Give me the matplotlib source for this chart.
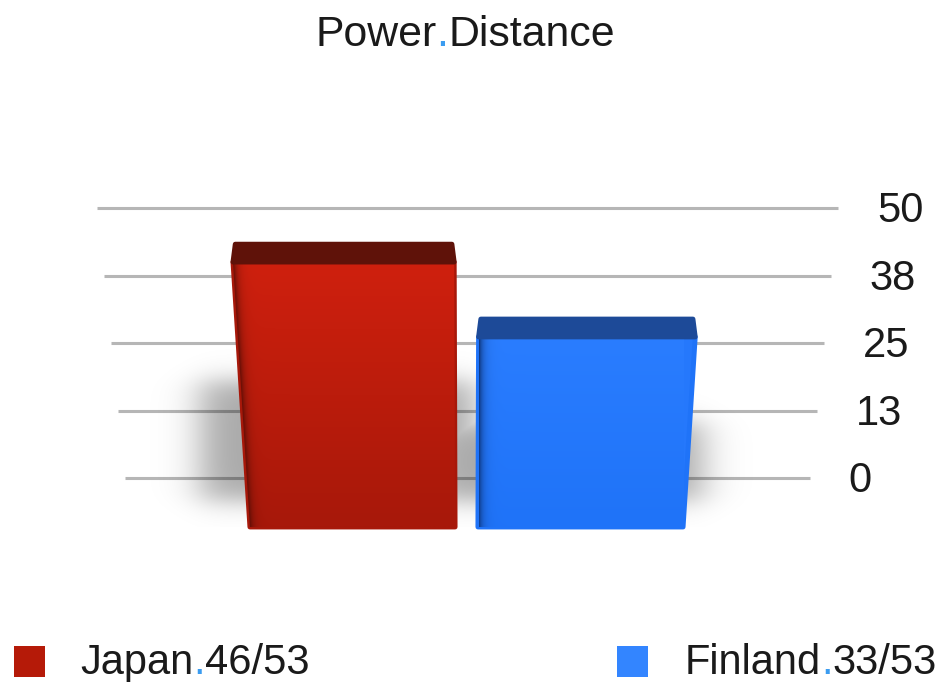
import numpy as np
import matplotlib
matplotlib.use('Agg')
import matplotlib.pyplot as plt
from matplotlib.patches import Polygon, Rectangle
from matplotlib.colors import to_rgb

plt.rcParams['font.family'] = ['Liberation Sans', 'DejaVu Sans']

# scores out of the maximum on the index
countries = ['Japan', 'Finland']
scores = [46, 33]
max_score = 53
tick_values = [0, 12.5, 25, 37.5, 50]
tick_labels = ['0', '13', '25', '38', '50']

front_top = ['#cf200e', '#2a7dff']
front_bottom = ['#a7180a', '#1f73f8']
edge_dark = ['#5a0d05', '#0a2a66']
top_face = ['#5f1209', '#1d4a98']
legend_colours = ['#b51a08', '#3385ff']
DOT_BLUE = '#3b9cf0'
TEXT = '#1a1a1a'
GRID = '#b6b6b6'

W, H = 947, 682
fig = plt.figure(figsize=(W / 100, H / 100), dpi=100)


def px_box(left, top, right, bottom):
    """axes rect from pixel edges (top-left origin)"""
    return [left / W, 1 - bottom / H, (right - left) / W, (bottom - top) / H]


# back wall with the value grid
ax = fig.add_axes(px_box(97, 208, 838, 478))
ax.set_xlim(0, 1)
ax.set_ylim(0, 50)
ax.axis('off')
for v, lab in zip(tick_values, tick_labels):
    inset = 0.038 * (1 - v / 50)
    ax.hlines(v, inset, 1 - inset, colors=GRID, lw=2.2, clip_on=False, zorder=1)
    ax.annotate(lab, xy=(1 - inset, v), xytext=(28, -2.5), textcoords='offset points',
                ha='left', va='center', fontsize=30, color=TEXT, annotation_clip=False)

# bars sit in front of the wall, on their own (larger) scale
bx = fig.add_axes(px_box(124.5, 239, 808.5, 527))
bx.set_xlim(-1, 2)
bx.set_ylim(0, 50)
bx.axis('off')

positions = np.arange(len(countries))
bar_w = 0.9
k = 0.0017      # widening of the bars with height


def persp(x, h):
    return 0.5 + (x - 0.5) * (1 + k * h)


def soft_box(t, a, b, w):
    return 0.5 * (np.tanh((t - a) / w) - np.tanh((t - b) / w))


# soft drop shadows behind the bars
xs = np.linspace(-1, 2, 900)
ys = np.linspace(0, 50, 400)
X, Y = np.meshgrid(xs, ys)
alpha = np.zeros_like(X)
for p, v in zip(positions, scores):
    x0, x1 = p - bar_w / 2, p + bar_w / 2
    a = 0.34 * soft_box(X, x0 - 0.22, x1 + 0.08, 0.1) * soft_box(Y, 4.5, 0.55 * v, 2.5)
    alpha = np.maximum(alpha, a)
shadow = np.zeros(X.shape + (4,))
shadow[..., 3] = alpha
bx.imshow(shadow, extent=(-1, 2, 0, 50), origin='lower', aspect='auto',
          interpolation='bilinear', zorder=1)

for i, (p, v) in enumerate(zip(positions, scores)):
    x0, x1 = p - bar_w / 2, p + bar_w / 2
    front = [(persp(x0, 0), 0), (persp(x1, 0), 0), (persp(x1, v), v), (persp(x0, v), v)]
    mid = np.mean([to_rgb(front_top[i]), to_rgb(front_bottom[i])], axis=0)
    face = Polygon(front, closed=True, fc=mid, ec=front_bottom[i], lw=3.5, joinstyle='round',
                   zorder=3, clip_on=False)
    bx.add_patch(face)

    # shaded front face: vertical gradient, darker strip on the left side
    lo, hi = persp(x0, v), persp(x1, 0)
    gx, gy = np.meshgrid(np.linspace(lo, hi, 200), np.linspace(0, v, 200))
    left = persp(x0, gy)
    right = persp(x1, gy)
    u = np.clip((gx - left) / (right - left), 0, 1)
    f = (gy / v)[..., None]
    col = np.array(to_rgb(front_bottom[i])) * (1 - f) + np.array(to_rgb(front_top[i])) * f
    edge_mix = np.exp(-u / 0.02)[..., None] * 0.8
    col = col * (1 - edge_mix) + np.array(to_rgb(edge_dark[i])) * edge_mix
    im = bx.imshow(col, extent=(lo, hi, 0, v), origin='lower', aspect='auto',
                   interpolation='bilinear', zorder=4)
    im.set_clip_path(face)

    # top face
    d = 3.1
    top = [(persp(x0, v), v), (persp(x1, v), v),
           (persp(x1, v) - 0.01, v + d), (persp(x0, v) + 0.01, v + d)]
    bx.add_patch(Polygon(top, closed=True, fc=top_face[i], ec=top_face[i], lw=3.5,
                         joinstyle='round', zorder=5, clip_on=False))

bx.set_xlim(-1, 2)
bx.set_ylim(0, 50)


def dotted_text(x, y, head, tail, size=30):
    """draw head, a blue dot, then tail on one baseline"""
    t1 = fig.text(x, y, head, fontsize=size, color=TEXT, ha='left', va='baseline')
    t2 = ax.annotate('.', xy=(1, 0), xycoords=t1, ha='left', va='bottom',
                     fontsize=size, color=DOT_BLUE, annotation_clip=False)
    ax.annotate(tail, xy=(1, 0), xycoords=t2, ha='left', va='bottom',
                fontsize=size, color=TEXT, annotation_clip=False)


dotted_text(315 / W, 1 - 46 / H, 'Power', 'Distance', size=30.8)

# legend
legend_x = [(14, 80), (617, 685)]
for i, country in enumerate(countries):
    sq_x, txt_x = legend_x[i]
    fig.add_artist(Rectangle((sq_x / W, 1 - 677 / H), 31 / W, 31 / H,
                             transform=fig.transFigure, fc=legend_colours[i], ec='none'))
    dotted_text(txt_x / W, 1 - 674 / H, country, '{}/{}'.format(scores[i], max_score))

fig.savefig('out.png', dpi=100, facecolor='white')
